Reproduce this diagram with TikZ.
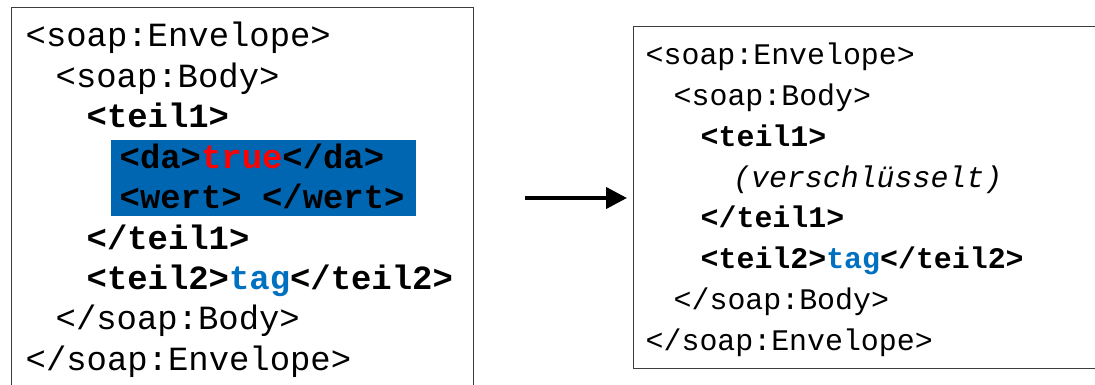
\documentclass[tikz,border=0pt]{standalone}
\usepackage{fontspec}
\usetikzlibrary{arrows.meta}
\newfontfamily\codefont{Liberation Mono}
\definecolor{hlblue}{RGB}{0,102,178}
\definecolor{tagblue}{RGB}{0,112,192}
\definecolor{boxgray}{RGB}{60,60,60}
\tikzset{
  frame/.style={draw=boxgray, line width=1.4pt, rectangle, inner sep=0pt, anchor=north west},
  bigcode/.style={anchor=base west, inner sep=0pt, font=\codefont\fontsize{33.9pt}{40pt}\selectfont},
  smallcode/.style={anchor=base west, inner sep=0pt, font=\codefont\fontsize{29.9pt}{36pt}\selectfont},
  marker/.style={fill=hlblue, draw=none, inner sep=0pt, anchor=north west},
  flow/.style={line width=4pt, -{Triangle[length=21pt,width=21pt]}}
}
\begin{document}
\begin{tikzpicture}[x=1pt, y=-1pt]
  \useasboundingbox (0,0) rectangle (1095,385);
  \clip (0,0) rectangle (1095,385);
  \fill[white] (0,0) rectangle (1095,385);

  % plain message
  \node[frame, minimum width=462pt, minimum height=400pt] (lbox) at (10.5,7) {};
  \node[marker, minimum width=305pt, minimum height=76pt] (mark) at (111,140) {};
  \node[bigcode] (l1) at (25.5,47) {<soap:Envelope>};
  \node[bigcode] (l2) at (55.5,87.4) {<soap:Body>};
  \node[bigcode] (l3) at (86.5,127.8) {\bfseries <teil1>};
  \node[bigcode] (l4) at (119.5,168.2) {\bfseries <da>\textcolor{red}{true}</da>};
  \node[bigcode] (l5) at (119.5,208.6) {\bfseries <wert> </wert>};
  \node[bigcode] (l6) at (86.5,249) {\bfseries </teil1>};
  \node[bigcode] (l7) at (86.5,289.4) {\bfseries <teil2>\textcolor{tagblue}{tag}</teil2>};
  \node[bigcode] (l8) at (55.5,329.8) {</soap:Body>};
  \node[bigcode] (l9) at (25.5,370) {</soap:Envelope>};

  % transformation arrow
  \coordinate (arrS) at (525,198);
  \coordinate (arrE) at (627,198);
  \draw[flow] (arrS) -- (arrE);

  % encrypted message
  \node[frame, minimum width=480pt, minimum height=342pt] (rbox) at (633,26) {};
  \node[smallcode] (r1) at (645.5,65) {<soap:Envelope>};
  \node[smallcode] (r2) at (673.5,105.7) {<soap:Body>};
  \node[smallcode] (r3) at (700.5,146.4) {\bfseries <teil1>};
  \node[smallcode] (r4) at (733,187.1) {\itshape (verschlüsselt)};
  \node[smallcode] (r5) at (700.5,227.8) {\bfseries </teil1>};
  \node[smallcode] (r6) at (700.5,268.5) {\bfseries <teil2>\textcolor{tagblue}{tag}</teil2>};
  \node[smallcode] (r7) at (673.5,309.2) {</soap:Body>};
  \node[smallcode] (r8) at (645.5,350) {</soap:Envelope>};
\end{tikzpicture}
\end{document}
